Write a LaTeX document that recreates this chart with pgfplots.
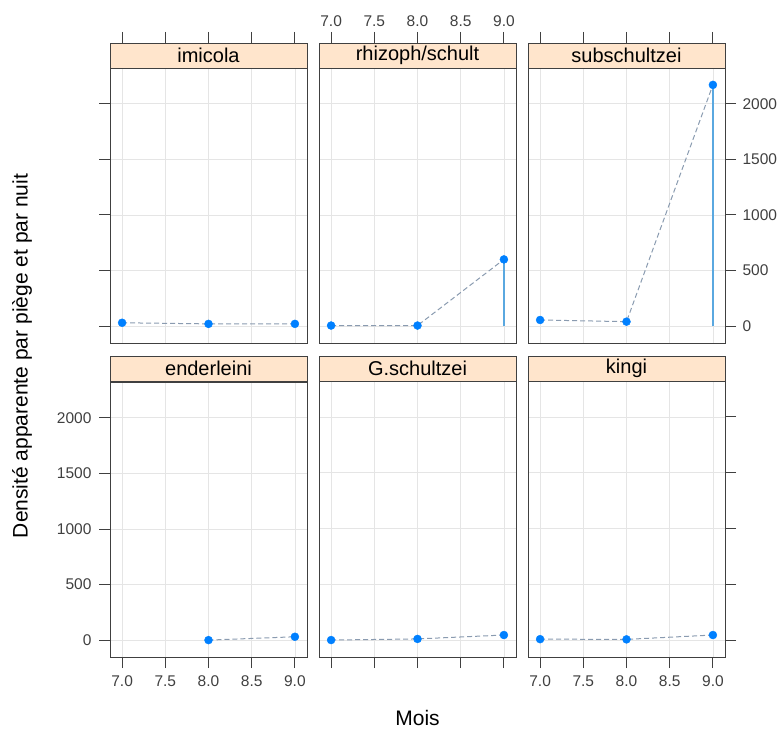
\documentclass[border=0pt]{standalone}
\usepackage{fontspec}
\setmainfont{Liberation Sans}
\usepackage{pgfplots}
\pgfplotsset{compat=1.18}
\definecolor{strip}{HTML}{FFE5CC}
\definecolor{ptc}{HTML}{0080FF}
\definecolor{dl}{HTML}{8A9BB0}
\definecolor{vl}{HTML}{5AA8E0}
\tikzset{stitle/.style={font=\fontsize{20}{20}\selectfont}}
\pgfplotsset{
  panel/.style={scale only axis, width=197pt, height=275pt,
    xmin=6.86, xmax=9.14, ymin=-152, ymax=2322,
    xtick={7,7.5,8,8.5,9}, ytick={0,500,1000,1500,2000},
    xticklabels={7.0,7.5,8.0,8.5,9.0}, yticklabels={0,500,1000,1500,2000},
    grid=major, major grid style={black!10, line width=0.6pt},
    axis line style={black!75, line width=0.9pt},
    tick align=outside, major tick length=11pt,
    tick style={black!75, line width=0.9pt},
    ticklabel style={font=\fontsize{15.5}{15.5}\selectfont, text=black!75},
    xticklabel style={yshift=-4pt},
  },
  stripax/.style={scale only axis, width=197pt, height=25pt,
    xmin=6.86, xmax=9.14, ymin=0, ymax=1, ytick=\empty,
    axis background/.style={fill=strip},
    axis line style={black!75, line width=0.9pt},
    tick align=outside, major tick length=11pt,
    tick style={black!75, line width=0.9pt},
    xtick={7,7.5,8,8.5,9}, xticklabels={7.0,7.5,8.0,8.5,9.0},
    ticklabel style={font=\fontsize{15.5}{15.5}\selectfont, text=black!75},
    xticklabel style={yshift=2pt},
  },
  nox/.style={xticklabels={,,,,}},
  noy/.style={yticklabels={,,,,}},
  dline/.style={dl, dash pattern=on 5pt off 3pt, line width=1pt},
  pts/.style={only marks, mark=*, mark size=4pt, ptc, mark options={fill=ptc, draw=ptc}},
  vline/.style={vl, line width=1.2pt},
}
\begin{document}
\begin{tikzpicture}
\path[use as bounding box] (0,0) rectangle (784pt,729pt);
% ---------- top row ----------
\begin{axis}[stripax, at={(110pt,661pt)}, anchor=south west, xtick pos=right, nox]
\node[stitle] at (rel axis cs:0.5,0.5) {imicola};
\end{axis}
\begin{axis}[stripax, at={(319pt,661pt)}, anchor=south west, xtick pos=right, xticklabel pos=right]
\node[stitle] at (rel axis cs:0.5,0.5) {rhizoph/schult};
\end{axis}
\begin{axis}[stripax, at={(528pt,661pt)}, anchor=south west, xtick pos=right, nox]
\node[stitle] at (rel axis cs:0.5,0.5) {subschultzei};
\end{axis}
\begin{axis}[panel, at={(110pt,386pt)}, anchor=south west, xtick style={draw=none}, nox, ytick pos=left, noy]
\addplot[dline] coordinates {(7,30) (8,20) (9,20)};
\addplot[pts] coordinates {(7,30) (8,20) (9,20)};
\end{axis}
\begin{axis}[panel, at={(319pt,386pt)}, anchor=south west, xtick style={draw=none}, nox, ytick style={draw=none}, noy]
\addplot[vline] coordinates {(9,0) (9,600)};
\addplot[dline] coordinates {(7,5) (8,5) (9,600)};
\addplot[pts] coordinates {(7,5) (8,5) (9,600)};
\end{axis}
\begin{axis}[panel, at={(528pt,386pt)}, anchor=south west, xtick style={draw=none}, nox, ytick pos=right, yticklabel pos=right, yticklabel style={xshift=3pt}]
\addplot[vline] coordinates {(9,0) (9,2170)};
\addplot[dline] coordinates {(7,55) (8,40) (9,2170)};
\addplot[pts] coordinates {(7,55) (8,40) (9,2170)};
\end{axis}
% ---------- bottom row ----------
\begin{axis}[stripax, at={(110pt,348pt)}, anchor=south west, xtick=\empty]
\node[stitle] at (rel axis cs:0.5,0.5) {enderleini};
\end{axis}
\begin{axis}[stripax, at={(319pt,348pt)}, anchor=south west, xtick=\empty]
\node[stitle] at (rel axis cs:0.5,0.5) {G.schultzei};
\end{axis}
\begin{axis}[stripax, at={(528pt,348pt)}, anchor=south west, xtick=\empty]
\node[stitle] at (rel axis cs:0.5,0.5) {kingi};
\end{axis}
\begin{axis}[panel, at={(110pt,72pt)}, anchor=south west, xtick pos=left, ytick pos=left, yticklabel style={xshift=-4pt}]
\addplot[dline] coordinates {(8,0) (9,30)};
\addplot[pts] coordinates {(8,0) (9,30)};
\end{axis}
\begin{axis}[panel, height=276pt, at={(319pt,72pt)}, anchor=south west, xtick pos=left, nox, ytick style={draw=none}, noy]
\addplot[dline] coordinates {(7,0) (8,10) (9,45)};
\addplot[pts] coordinates {(7,0) (8,10) (9,45)};
\end{axis}
\begin{axis}[panel, height=276pt, at={(528pt,72pt)}, anchor=south west, xtick pos=left, ytick pos=right, noy]
\addplot[dline] coordinates {(7,8) (8,6) (9,45)};
\addplot[pts] coordinates {(7,8) (8,6) (9,45)};
\end{axis}
% ---------- axis titles ----------
\node[font=\fontsize{21}{21}\selectfont] at (417.5pt,11pt) {Mois};
\node[rotate=90, font=\fontsize{21}{21}\selectfont] at (22pt,373pt) {Densité apparente par piège et par nuit};
\end{tikzpicture}
\end{document}
